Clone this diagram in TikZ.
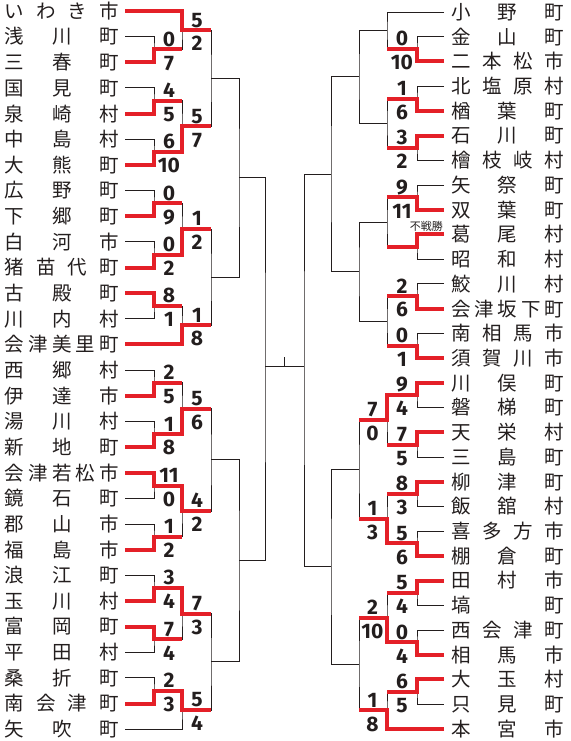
\documentclass[tikz,border=0pt]{standalone}
\usepackage{fontspec}
\usepackage{tikz}
\usetikzlibrary{calc}
\newfontfamily\jpfont{Noto Sans CJK JP}
\newfontfamily\numfont{Fira Sans}
\definecolor{winred}{RGB}{228,32,40}
\definecolor{ink}{RGB}{35,30,30}

% spread the characters of a name over a fixed width
\ExplSyntaxOn
\bool_new:N \l__spread_first_bool
\cs_new_protected:Npn \spread_chars:n #1
  {
    \bool_set_true:N \l__spread_first_bool
    \tl_map_inline:nn {#1}
      {
        \bool_if:NF \l__spread_first_bool { \hfill }
        \bool_set_false:N \l__spread_first_bool
        ##1
      }
  }
\cs_generate_variant:Nn \spread_chars:n { o }
\NewDocumentCommand \spreadname { O{115pt} m }
  { \makebox [#1] [s] { \spread_chars:o {#2} } }
\ExplSyntaxOff

\tikzset{
  townL/.style   = {anchor=east, inner xsep=5.5pt, inner ysep=0pt, text=ink,
                    font=\jpfont\fontsize{19.5}{20}\selectfont},
  townR/.style   = {townL, anchor=west, inner xsep=7pt},
  bracket/.style = {draw=ink, line width=0.9pt},
  winpath/.style = {draw=winred, line width=4pt},
  score/.style   = {inner sep=0pt, text=ink, text height=14.5pt, text depth=0pt,
                    font=\numfont\bfseries\fontsize{21}{21}\selectfont},
  scoreup/.style = {score, anchor=south, yshift=3pt},
  scoredn/.style = {score, anchor=north, yshift=-6pt},
  byetext/.style = {anchor=south east, inner sep=1pt, text=ink,
                    font=\jpfont\fontsize{11}{12}\selectfont}
}

\begin{document}
\begin{tikzpicture}[x=1pt,y=-1pt]
  \useasboundingbox (0,0) rectangle (570,741);

  % teams
  \foreach \t [count=\i from 0] in {いわき市,浅川町,三春町,国見町,泉崎村,中島村,大熊町,
      広野町,下郷町,白河市,猪苗代町,古殿町,川内村,会津美里町,西郷村,伊達市,湯川村,新地町,
      会津若松市,鏡石町,郡山市,福島市,浪江町,玉川村,富岡町,平田村,桑折町,南会津町,矢吹町}
    \node[townL] (L\i) at (125, 11+25.65*\i) {\spreadname{\t}};
  \foreach \t [count=\j from 0] in {小野町,金山町,二本松市,北塩原村,楢葉町,石川町,檜枝岐村,
      矢祭町,双葉町,葛尾村,昭和村,鮫川村,会津坂下町,南相馬市,須賀川市,川俣町,磐梯町,天栄村,
      三島町,柳津町,飯舘村,喜多方市,棚倉町,田村市,塙町,西会津町,相馬市,大玉村,只見町,本宮市}
    \node[townR] (R\j) at (444, 12+24.72*\j) {\spreadname[113pt]{\t}};

  % bracket lines
  \foreach \p/\q/\m/\x in {L1/L2/la1/154, L3/L4/la2/154, L5/L6/la3/154, L7/L8/la4/154,
      L9/L10/la5/154, L11/L12/la6/154, L14/L15/la7/154, L16/L17/la8/154, L18/L19/la9/154,
      L20/L21/la10/154, L22/L23/la11/154, L24/L25/la12/154, L26/L27/la13/154,
      L0/la1/lb1/182, la2/la3/lb2/182, la4/la5/lb3/182, la6/L13/lb4/182,
      la7/la8/lb5/182, la9/la10/lb6/182, la11/la12/lb7/182, la13/L28/lb8/182,
      lb1/lb2/lc1/211, lb3/lb4/lc2/211, lb5/lb6/lc3/211, lb7/lb8/lc4/211,
      lc1/lc2/ld1/239, lc3/lc4/ld2/239,
      R1/R2/ra1/417, R3/R4/ra2/417, R5/R6/ra3/417, R7/R8/ra4/417, R9/R10/ra5/417,
      R11/R12/ra6/417, R13/R14/ra7/417, R15/R16/ra8/417, R17/R18/ra9/417,
      R19/R20/ra10/417, R21/R22/ra11/417, R23/R24/ra12/417, R25/R26/ra13/417,
      R27/R28/ra14/417,
      R0/ra1/rb1/387, ra2/ra3/rb2/387, ra4/ra5/rb3/387, ra6/ra7/rb4/387,
      ra8/ra9/rb5/387, ra10/ra11/rb6/387, ra12/ra13/rb7/387, ra14/R29/rb8/387,
      rb1/rb2/rc1/359, rb3/rb4/rc2/359, rb5/rb6/rc3/359, rb7/rb8/rc4/359,
      rc1/rc2/rd1/331, rc3/rc4/rd2/331} {
    \coordinate (tmp) at ($(\p)!.5!(\q)$);
    \coordinate (\m) at (tmp -| \x,0);
    \draw[bracket] (\p) -| (\m) |- (\q);
  }
  \coordinate (le) at (265,366);
  \coordinate (re) at (304,366);
  \draw[bracket] (ld1) -| (le) |- (ld2);
  \draw[bracket] (rd1) -| (re) |- (rd2);
  \draw[bracket] (le) -- (re);
  \coordinate (mid) at ($(le)!.5!(re)$);
  \draw[bracket] (mid) -- ++(0,-9);

  % winners
  \foreach \w/\m/\x in {L2/la1/182, L4/la2/182, L6/la3/182, L8/la4/182, L10/la5/182,
      L11/la6/182, L15/la7/182, L17/la8/182, L18/la9/182, L21/la10/182, L23/la11/182,
      L24/la12/182, L27/la13/182,
      L0/lb1/211, la3/lb2/211, la5/lb3/211, L13/lb4/211, la8/lb5/211, la9/lb6/211,
      la11/lb7/211, la13/lb8/211,
      R2/ra1/387, R4/ra2/387, R5/ra3/387, R8/ra4/387, R9/ra5/387, R12/ra6/387,
      R14/ra7/387, R15/ra8/387, R17/ra9/387, R19/ra10/387, R22/ra11/387, R23/ra12/387,
      R26/ra13/387, R27/ra14/387,
      ra8/rb5/359, ra11/rb6/359, ra13/rb7/359, R29/rb8/359}
    \draw[winpath] (\w) -| (\m) -- (\m -| \x,0);

  % scores
  \foreach \m/\a/\b/\dx in {la1/0/7/15, la2/4/5/15, la3/6/10/15, la4/0/9/15, la5/0/2/15,
      la6/8/1/15, la7/2/5/15, la8/1/8/15, la9/11/0/15, la10/1/2/15, la11/3/4/15,
      la12/7/4/15, la13/2/3/15,
      lb1/5/2/15, lb2/5/7/15, lb3/1/2/15, lb4/1/8/15, lb5/5/6/15, lb6/4/2/15,
      lb7/7/3/15, lb8/5/4/15,
      ra1/0/10/-15, ra2/1/6/-15, ra3/3/2/-15, ra4/9/11/-15, ra6/2/6/-15, ra7/0/1/-15,
      ra8/9/4/-15, ra9/7/5/-15, ra10/8/3/-15, ra11/5/6/-15, ra12/5/4/-15,
      ra13/0/4/-15, ra14/6/5/-15,
      rb5/7/0/-14.5, rb6/1/3/-14.5, rb7/2/10/-14.5, rb8/1/8/-14.5} {
    \node[scoreup] (\m-top) at ([xshift=\dx]\m) {\a};
    \node[scoredn] (\m-bot) at ([xshift=\dx]\m) {\b};
  }
  \node[byetext] (bye) at ([yshift=2pt]R9.west) {不戦勝};
\end{tikzpicture}
\end{document}
